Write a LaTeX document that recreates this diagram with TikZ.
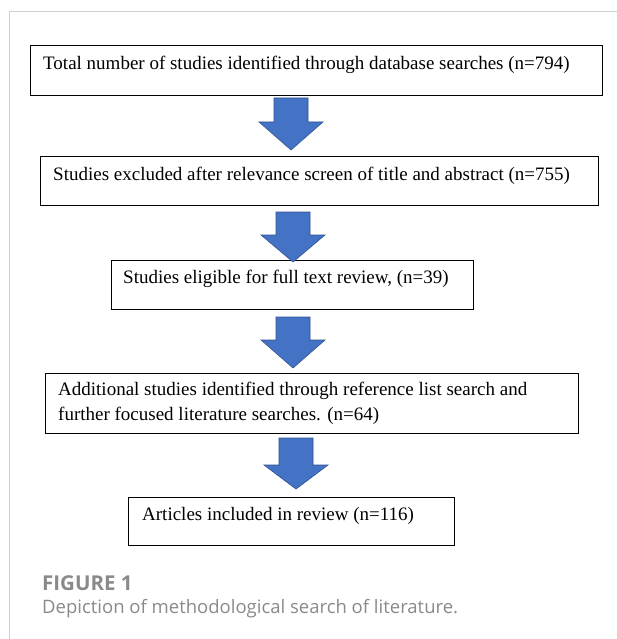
\documentclass[tikz,border=0pt]{standalone}
\usepackage{fontspec}
\setmainfont{Liberation Serif}
\newfontfamily\capfont{Open Sans}
\definecolor{arrowblue}{HTML}{4472C4}
\definecolor{arrowedge}{HTML}{2F528F}
\definecolor{framegray}{HTML}{D0D0D0}
\definecolor{capgray}{HTML}{8A8A8A}
\tikzset{
  box/.style={draw=black, line width=1.4pt, anchor=north west, inner sep=0pt},
  txt/.style={anchor=base west, inner sep=0pt, font=\fontsize{19}{25}\selectfont},
  blockarrow/.style={fill=arrowblue, draw=arrowedge, line width=0.6pt, line join=miter}
}
\newcommand{\blockarr}[4]{% cx, stem top, head base, tip
  \path[blockarrow] (#1-17,#2) -- (#1+17,#2) -- (#1+17,#3) -- (#1+32,#3) -- (#1,#4)
    -- (#1-32,#3) -- (#1-17,#3) -- cycle;}
\begin{document}
\begin{tikzpicture}[x=1pt,y=-1pt]
\useasboundingbox (0,0) rectangle (617,639);
\fill[white] (0,0) rectangle (617,639);
% frame lines
\coordinate (fl) at (9,12);
\coordinate (fr) at (617,12);
\coordinate (fb) at (9,639);
\draw[framegray, line width=1pt] (fr) -- (fl) -- (fb);
% boxes
\node[box, minimum width=572pt, minimum height=50pt] (b1) at (30,45) {};
\node[txt] (t1) at (43,70) {Total number of studies identified through database searches (n=794)};
\node[box, minimum width=558pt, minimum height=49pt] (b2) at (40,156) {};
\node[txt] (t2) at (53,180) {Studies excluded after relevance screen of title and abstract (n=755)};
\node[box, minimum width=362pt, minimum height=49pt] (b3) at (111,260) {};
\node[txt] (t3) at (123,283) {Studies eligible for full text review, (n=39)};
\node[box, minimum width=533pt, minimum height=60pt] (b4) at (45,373) {};
\node[txt] (t4a) at (58,395) {Additional studies identified through reference list search and};
\node[txt] (t4b) at (58,420) {further focused literature searches. (n=64)};
\node[box, minimum width=326pt, minimum height=48pt] (b5) at (128,497) {};
\node[txt] (t5) at (142,520) {Articles included in review (n=116)};
% block arrows
\blockarr{291}{98}{122}{150}
\blockarr{293}{212}{235}{262}
\blockarr{293}{317}{340}{368}
\blockarr{296}{438}{465}{489}
% caption
\node[anchor=base west, inner sep=0pt, text=capgray, font=\capfont\bfseries\fontsize{20.5}{24}\selectfont] (cap1) at (42,590) {FIGURE 1};
\node[anchor=base west, inner sep=0pt, text=capgray, font=\capfont\fontsize{18.5}{22}\selectfont] (cap2) at (42,613) {Depiction of methodological search of literature.};
\end{tikzpicture}
\end{document}
